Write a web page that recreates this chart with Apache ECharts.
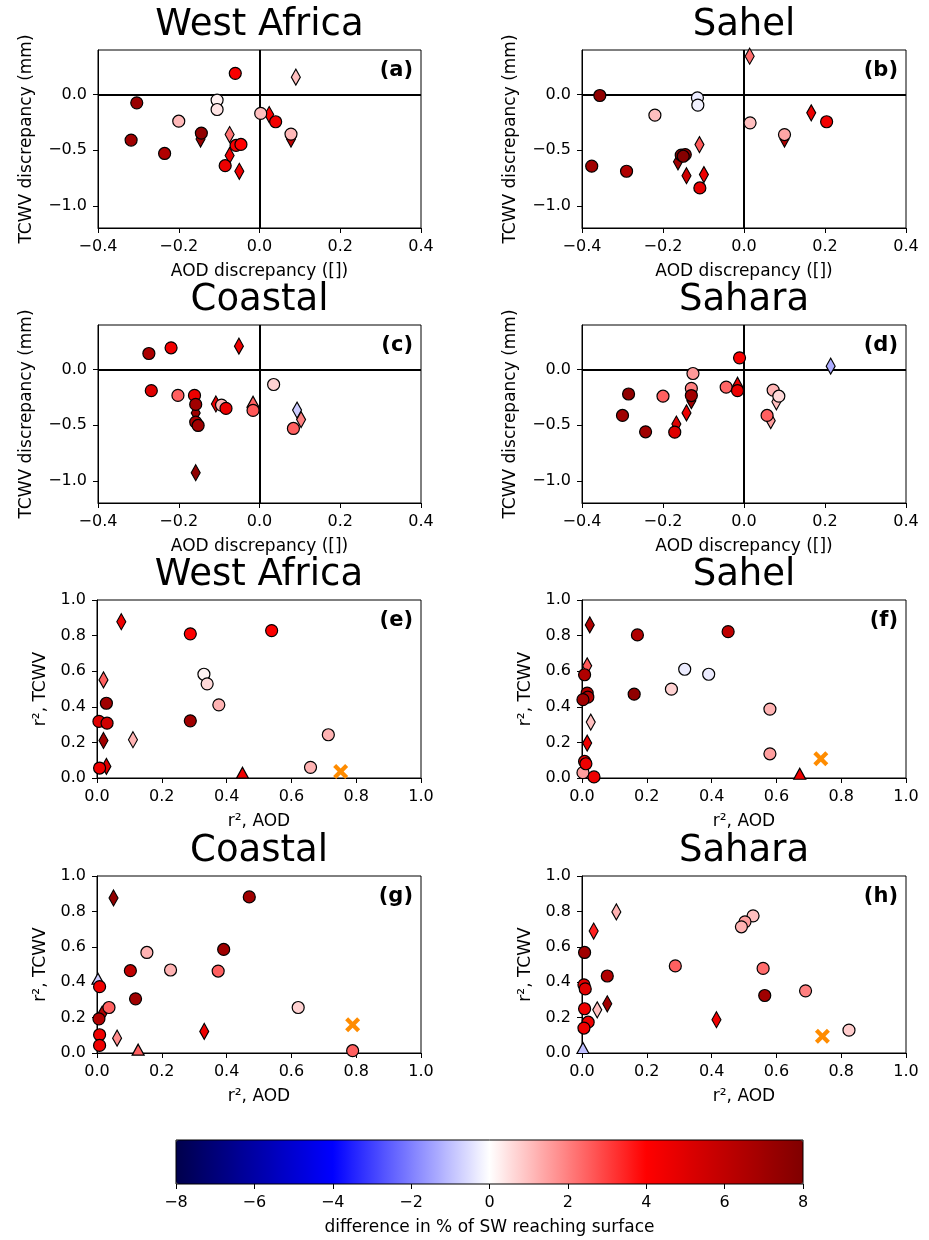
<!DOCTYPE html>
<html>
<head>
<meta charset="utf-8">
<script src="https://cdn.jsdelivr.net/npm/echarts@6/dist/echarts.min.js"></script>
<style>
html, body { margin: 0; padding: 0; background: #fff; }
#main { width: 929px; height: 1240px; }
</style>
</head>
<body>
<div id="main"></div>
<script>
// region titles and panel letters
var regions = ['West Africa', 'Sahel', 'Coastal', 'Sahara'];
var panelLetters = ['(a)', '(b)', '(c)', '(d)', '(e)', '(f)', '(g)', '(h)'];

// tick values
var discTicksX = [-0.4, -0.2, 0, 0.2, 0.4];
var discTicksY = [-1.0, -0.5, 0];
var corrTicks = [0, 0.2, 0.4, 0.6, 0.8, 1.0];
var cbarTicks = [-8, -6, -4, -2, 0, 2, 4, 6, 8];

// rows: [AOD discrepancy, TCWV discrepancy (mm), SW difference (%), marker set]
// marker set: 0 circle, 1 thin diamond, 2 triangle
var discWestAfrica = [
  [-0.060, 0.19, 4.2, 0], [0.090, 0.156, 1.0, 1], [-0.304, -0.075, 7.2, 0],
  [-0.105, -0.05, 0.2, 0], [-0.105, -0.135, 0.4, 0], [-0.200, -0.24, 1.1, 0],
  [-0.318, -0.41, 7.0, 0], [-0.235, -0.53, 6.5, 0], [-0.146, -0.40, 7.2, 1],
  [-0.144, -0.347, 7.5, 0], [-0.074, -0.36, 2.2, 1], [-0.058, -0.458, 4.3, 0],
  [-0.046, -0.449, 4.0, 0], [-0.074, -0.548, 4.5, 1], [-0.085, -0.64, 4.6, 0],
  [-0.050, -0.69, 4.5, 1], [0.078, -0.40, 6.0, 1], [0.003, -0.17, 1.0, 0],
  [0.024, -0.18, 4.2, 1], [0.040, -0.245, 4.4, 0], [0.078, -0.356, 1.1, 0]
];
var discSahel = [
  [0.014, 0.344, 2.3, 1], [-0.356, -0.009, 7.5, 0], [-0.115, -0.03, -0.3, 0],
  [-0.114, -0.096, -0.2, 0], [-0.220, -0.186, 1.0, 0], [-0.110, -0.45, 2.6, 1],
  [-0.163, -0.605, 7.0, 1], [-0.155, -0.545, 7.5, 0], [-0.145, -0.54, 7.2, 0],
  [-0.150, -0.555, 7.8, 0], [-0.376, -0.644, 7.0, 0], [-0.290, -0.69, 6.5, 0],
  [-0.142, -0.73, 5.5, 1], [-0.099, -0.72, 4.5, 1], [-0.109, -0.84, 4.8, 0],
  [0.015, -0.255, 1.0, 0], [0.100, -0.40, 6.5, 1], [0.100, -0.36, 1.4, 0],
  [0.166, -0.165, 4.6, 1], [0.204, -0.245, 4.4, 0]
];
var discCoastal = [
  [-0.274, 0.144, 6.6, 0], [-0.219, 0.195, 4.4, 0], [-0.051, 0.21, 4.5, 1],
  [-0.268, -0.19, 5.0, 0], [-0.202, -0.233, 2.5, 0], [-0.161, -0.233, 4.6, 0],
  [-0.158, -0.39, 7.0, 1], [-0.158, -0.314, 7.0, 0], [-0.108, -0.31, 4.6, 1],
  [-0.094, -0.32, 1.2, 0], [-0.083, -0.35, 4.6, 0], [-0.158, -0.473, 6.6, 0],
  [-0.152, -0.503, 7.0, 0], [-0.158, -0.928, 7.5, 1], [-0.016, -0.29, 2.5, 2],
  [-0.016, -0.368, 2.6, 0], [0.035, -0.135, 0.7, 0], [0.093, -0.365, -0.8, 1],
  [0.103, -0.45, 2.0, 1], [0.084, -0.53, 2.5, 0]
];
var discSahara = [
  [-0.011, 0.105, 4.2, 0], [0.214, 0.03, -1.3, 1], [-0.126, -0.036, 1.6, 0],
  [-0.130, -0.17, 2.0, 0], [-0.130, -0.28, 7.0, 1], [-0.130, -0.234, 7.0, 0],
  [-0.285, -0.22, 7.5, 0], [-0.200, -0.24, 2.5, 0], [-0.044, -0.159, 2.4, 0],
  [-0.016, -0.12, 4.6, 2], [-0.016, -0.19, 4.6, 0], [-0.300, -0.413, 7.0, 0],
  [-0.142, -0.39, 4.6, 1], [-0.167, -0.49, 5.0, 1], [-0.171, -0.563, 5.0, 0],
  [-0.243, -0.56, 7.0, 0], [0.080, -0.29, 1.0, 1], [0.072, -0.186, 1.2, 0],
  [0.086, -0.24, 0.6, 0], [0.066, -0.46, 1.5, 1], [0.057, -0.413, 2.5, 0]
];

// rows: [r2 AOD, r2 TCWV, SW difference (%), marker set]
var corrWestAfrica = [
  [0.075, 0.878, 4.5, 1], [0.288, 0.81, 4.1, 0], [0.539, 0.828, 4.1, 0],
  [0.330, 0.583, 0.2, 0], [0.340, 0.529, 0.6, 0], [0.376, 0.411, 1.2, 0],
  [0.288, 0.321, 7.0, 0], [0.714, 0.243, 1.2, 0], [0.659, 0.06, 1.2, 0],
  [0.449, 0.03, 4.5, 2], [0.020, 0.551, 2.5, 1], [0.029, 0.42, 7.0, 0],
  [0.006, 0.318, 5.0, 0], [0.031, 0.308, 5.5, 0], [0.020, 0.211, 7.0, 1],
  [0.111, 0.215, 1.2, 1], [0.029, 0.065, 5.0, 1], [0.008, 0.056, 4.5, 0]
];
var corrSahel = [
  [0.024, 0.86, 6.5, 1], [0.171, 0.804, 6.5, 0], [0.451, 0.822, 6.0, 0],
  [0.016, 0.63, 2.6, 1], [0.008, 0.58, 6.5, 0], [0.317, 0.611, -0.3, 0],
  [0.391, 0.583, -0.3, 0], [0.276, 0.499, 0.7, 0], [0.161, 0.471, 7.5, 0],
  [0.016, 0.477, 6.5, 0], [0.018, 0.454, 6.5, 0], [0.003, 0.44, 7.0, 0],
  [0.580, 0.387, 1.2, 0], [0.027, 0.314, 1.0, 1], [0.016, 0.196, 4.5, 1],
  [0.580, 0.136, 1.5, 0], [0.003, 0.03, 1.5, 0], [0.008, 0.093, 4.5, 0],
  [0.012, 0.08, 4.5, 0], [0.037, 0.006, 4.5, 0], [0.672, 0.024, 4.5, 2]
];
var corrCoastal = [
  [0.051, 0.876, 7.5, 1], [0.470, 0.882, 7.0, 0], [0.154, 0.568, 1.2, 0],
  [0.391, 0.585, 7.0, 0], [0.103, 0.465, 6.0, 0], [0.227, 0.469, 1.2, 0],
  [0.374, 0.463, 2.5, 0], [0.119, 0.306, 7.0, 0], [0.621, 0.257, 0.7, 0],
  [0.331, 0.122, 4.5, 1], [0.789, 0.013, 2.5, 0], [0.003, 0.42, -0.8, 2],
  [0.008, 0.375, 4.5, 0], [0.037, 0.257, 2.5, 0], [0.016, 0.22, 6.5, 1],
  [0.006, 0.193, 6.5, 0], [0.062, 0.084, 1.8, 1], [0.008, 0.103, 4.5, 0],
  [0.008, 0.043, 4.5, 0], [0.127, 0.019, 2.5, 2]
];
var corrSahara = [
  [0.106, 0.797, 1.2, 1], [0.036, 0.689, 3.5, 1], [0.528, 0.775, 1.0, 0],
  [0.503, 0.741, 1.5, 0], [0.492, 0.713, 1.2, 0], [0.008, 0.568, 7.0, 0],
  [0.288, 0.492, 2.5, 0], [0.559, 0.478, 2.3, 0], [0.078, 0.435, 6.5, 0],
  [0.006, 0.385, 5.0, 0], [0.010, 0.362, 5.0, 0], [0.690, 0.351, 2.0, 0],
  [0.564, 0.325, 7.0, 0], [0.078, 0.278, 7.0, 1], [0.047, 0.244, 1.0, 1],
  [0.008, 0.25, 4.5, 0], [0.415, 0.188, 4.5, 1], [0.019, 0.174, 4.5, 0],
  [0.006, 0.141, 4.5, 0], [0.824, 0.129, 0.8, 0], [0.003, 0.028, -1.0, 2]
];
// orange crosses, one per correlation panel (e-h)
var crossPoints = [[0.752, 0.037], [0.737, 0.108], [0.789, 0.16], [0.742, 0.094]];

var panels = [discWestAfrica, discSahel, discCoastal, discSahara,
              corrWestAfrica, corrSahel, corrCoastal, corrSahara];

// layout
var grids = [
  { left: 98, top: 50, width: 323, height: 178 },
  { left: 582, top: 50, width: 324, height: 178 },
  { left: 98, top: 325, width: 323, height: 178 },
  { left: 582, top: 325, width: 324, height: 178 },
  { left: 97, top: 600, width: 324, height: 178 },
  { left: 582, top: 600, width: 324, height: 178 },
  { left: 97, top: 876, width: 324, height: 177 },
  { left: 582, top: 876, width: 324, height: 177 },
  { left: 176, top: 1140, width: 627, height: 44 }   // colorbar axis
];

var FONT = 'DejaVu Sans';
var SYMBOLS = ['circle', 'diamond', 'triangle'];
var SIZES = [12, [9, 16], [12, 11]];
var XPATH = 'path://M2,0L5,3L8,0L10,2L7,5L10,8L8,10L5,7L2,10L0,8L3,5L0,2Z';

function fmt(v) {
  if (Math.abs(v) < 1e-9) v = 0;
  return v.toFixed(1).replace('-', '\u2212');
}

function axis(i, dim, ticks, name, gap) {
  return {
    type: 'value', gridIndex: i,
    min: ticks.min, max: ticks.max,
    name: name, nameLocation: 'middle', nameGap: gap,
    nameTextStyle: { fontSize: 17, color: '#000', fontFamily: FONT },
    axisLine: { show: true, onZero: false, lineStyle: { color: '#000', width: 1 } },
    axisTick: { show: true, inside: false, length: 5, customValues: ticks.values,
                lineStyle: { color: '#000', width: 1 } },
    axisLabel: { show: true, fontSize: 16, color: '#000', fontFamily: FONT, margin: 11,
                 customValues: ticks.values, formatter: fmt },
    splitLine: { show: false }
  };
}

var grid = [], xAxis = [], yAxis = [], series = [], mapped = [], graphic = [];

grids.forEach(function (g, i) {
  grid.push({
    left: g.left, top: g.top, width: g.width, height: g.height,
    show: true, borderColor: '#000', borderWidth: 1,
    backgroundColor: 'transparent', z: i === 8 ? 10 : 2
  });
});

panels.forEach(function (rows, i) {
  var isDisc = i < 4;
  if (isDisc) {
    xAxis.push(axis(i, 'x', { min: -0.4, max: 0.4, values: discTicksX }, 'AOD discrepancy ([])', 35));
    yAxis.push(axis(i, 'y', { min: -1.2, max: 0.4, values: discTicksY }, 'TCWV discrepancy (mm)', 63));
    // zero lines
    series.push({
      type: 'scatter', xAxisIndex: i, yAxisIndex: i, data: [], silent: true,
      markLine: {
        z: 1, silent: true, symbol: ['none', 'none'], animation: false,
        label: { show: false },
        lineStyle: { color: '#000', width: 2, type: 'solid' },
        emphasis: { disabled: true },
        data: [{ xAxis: 0 }, { yAxis: 0 }]
      }
    });
  } else {
    xAxis.push(axis(i, 'x', { min: 0, max: 1, values: corrTicks }, 'r\u00b2, AOD', 35));
    yAxis.push(axis(i, 'y', { min: 0, max: 1, values: corrTicks }, 'r\u00b2, TCWV', 48));
  }

  [2, 1, 0].forEach(function (set) {
    var pts = rows.filter(function (r) { return r[3] === set; })
                  .map(function (r) { return [r[0], r[1], r[2]]; });
    if (!pts.length) return;
    mapped.push(series.length);
    series.push({
      type: 'scatter', xAxisIndex: i, yAxisIndex: i, z: 3,
      symbol: SYMBOLS[set], symbolSize: SIZES[set],
      itemStyle: { borderColor: '#000', borderWidth: 1.2, opacity: 1 },
      emphasis: { disabled: true },
      data: pts
    });
  });

  if (!isDisc) {
    series.push({
      type: 'scatter', xAxisIndex: i, yAxisIndex: i, z: 4,
      symbol: XPATH, symbolSize: 15,
      itemStyle: { color: '#ff8c00', opacity: 1 },
      emphasis: { disabled: true },
      data: [crossPoints[i - 4]]
    });
  }

  var g = grids[i];
  var col = i % 2;
  graphic.push({
    type: 'text', x: g.left + g.width / 2, y: g.top - 25, silent: true,
    style: { text: regions[(i % 4)], font: '37px "' + FONT + '"', fill: '#000',
             align: 'center', verticalAlign: 'middle' }
  });
  graphic.push({
    type: 'text', x: g.left + g.width - 8, y: g.top + 21, silent: true, z: 20,
    style: { text: panelLetters[i], font: 'bold 21px "' + FONT + '"', fill: '#000',
             align: 'right', verticalAlign: 'middle' }
  });
});

// colorbar axis
xAxis.push({
  type: 'value', gridIndex: 8, min: -8, max: 8,
  name: 'difference in % of SW reaching surface', nameLocation: 'middle', nameGap: 35,
  nameTextStyle: { fontSize: 17, color: '#000', fontFamily: FONT },
  axisLine: { show: false },
  axisTick: { show: true, length: 5, customValues: cbarTicks, lineStyle: { color: '#000' } },
  axisLabel: { fontSize: 16, color: '#000', fontFamily: FONT, margin: 11, customValues: cbarTicks,
               formatter: function (v) { return String(v).replace('-', '\u2212'); } },
  splitLine: { show: false }
});
yAxis.push({ type: 'value', gridIndex: 8, min: 0, max: 1, show: false });

var chart = echarts.init(document.getElementById('main'));
chart.setOption({
  animation: false,
  backgroundColor: '#fff',
  textStyle: { fontFamily: FONT },
  grid: grid,
  xAxis: xAxis,
  yAxis: yAxis,
  visualMap: {
    type: 'continuous', min: -8, max: 8, dimension: 2,
    seriesIndex: mapped,
    orient: 'horizontal', left: 176, top: 1140,
    itemWidth: 44, itemHeight: 627, padding: 0,
    calculable: false, hoverLink: false, realtime: false,
    text: null,
    inRange: { color: ['#00004c', '#0000ff', '#ffffff', '#ff0000', '#800000'] }
  },
  graphic: graphic,
  series: series
});
</script>
</body>
</html>
